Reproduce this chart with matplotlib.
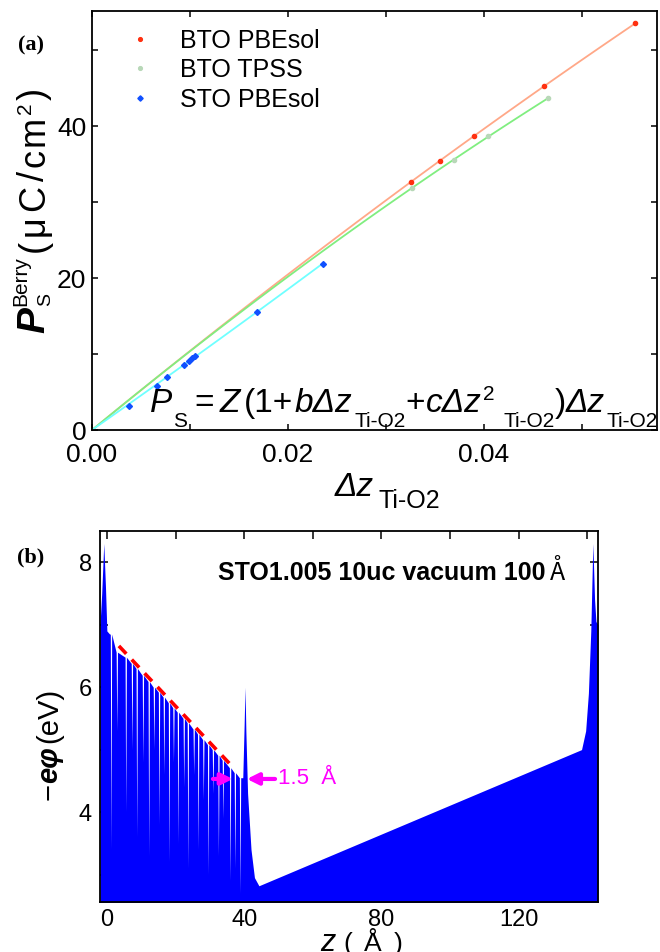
import numpy as np
import matplotlib.pyplot as plt
from matplotlib.ticker import MultipleLocator, FormatStrFormatter

W, H = 660, 952
plt.rcParams['font.family'] = ['Liberation Sans', 'DejaVu Sans']

# (a) spontaneous polarization vs Ti-O2 displacement
bto_pbesol_dz = [0.0326, 0.0355, 0.0390, 0.0462, 0.0555]
bto_pbesol_p = [32.7, 35.5, 38.7, 45.3, 53.6]
bto_tpss_dz = [0.0327, 0.0370, 0.0404, 0.0466]
bto_tpss_p = [31.9, 35.6, 38.7, 43.7]
sto_pbesol_dz = [0.0038, 0.0066, 0.0077, 0.0094, 0.0099, 0.0102, 0.0105, 0.0168, 0.0236]
sto_pbesol_p = [3.2, 5.8, 7.0, 8.6, 9.1, 9.5, 9.7, 15.6, 21.9]

# (b) electrostatic potential of the slab along z
edge_z = [-2.0, -1.5, -0.9, -0.4, 0.0, 0.8]
edge_v = [7.0, 7.5, 8.3, 7.6, 6.9, 6.85]
layer_z = [1.2, 2.9, 5.5, 7.3, 8.7, 10.5, 12.2, 13.7, 15.2, 16.6, 18.1, 19.4, 20.7,
           22.4, 23.6, 25.3, 26.6, 28.1, 29.5, 30.9, 32.5, 33.8, 35.9, 37.3, 38.8]
layer_top = [6.85, 6.56, 6.48, 6.38, 6.30, 6.19, 6.09, 6.00, 5.92, 5.84, 5.75, 5.67, 5.60,
             5.50, 5.43, 5.33, 5.25, 5.16, 5.08, 5.00, 4.91, 4.83, 4.71, 4.63, 4.55]
layer_dip = [3.4, 5.3, 4.0, 5.0, 3.6, 4.8, 3.3, 5.0, 3.8, 4.6, 3.2, 4.8, 3.5,
             4.4, 3.1, 4.6, 3.4, 4.2, 3.0, 4.3, 3.3, 3.9, 2.9, 3.1, 2.7]
vac_z = [39.6, 40.0, 40.25, 40.5, 41.0, 42.0, 43.0, 44.3, 138.3, 139.5,
         140.3, 141.0, 141.6, 142.1, 142.5, 143.1]
vac_v = [4.55, 5.4, 6.0, 5.3, 4.3, 3.4, 2.95, 2.82, 5.0, 5.3,
         5.9, 6.9, 8.3, 7.4, 7.05, 7.0]
slope_z = [3.5, 36.7]
slope_v = [6.66, 4.72]


def fit_curve(dz, p):
    # P = Z(1 + b dz) dz, least squares
    dz = np.asarray(dz)
    A = np.column_stack([dz, dz ** 2])
    coef = np.linalg.lstsq(A, np.asarray(p), rcond=None)[0]
    xs = np.linspace(0, dz.max(), 60)
    return xs, coef[0] * xs + coef[1] * xs ** 2


def rich(fig, x, y, pieces, rotation=0):
    # lay text runs one after another, x/y in pixels from the top-left corner;
    # each piece is (text, font kwargs, baseline shift, advance?, extra gap)
    r = fig.canvas.get_renderer()
    pos = 0.0
    for s, kw, shift, adv, gap in pieces:
        if rotation:
            px, py = x - shift, H - y + pos
        else:
            px, py = x + pos, H - y + shift
        t = fig.text(px / W, py / H, s, rotation=rotation, rotation_mode='anchor',
                     ha='left', va='baseline', **kw)
        bb = t.get_window_extent(r)
        if adv:
            pos += bb.height if rotation else bb.width
        pos += gap


fig = plt.figure(figsize=(6.6, 9.52), dpi=100)
ax1 = fig.add_axes([92 / W, 1 - 430 / H, 565 / W, 419 / H])
ax2 = fig.add_axes([100 / W, 1 - 902 / H, 498 / W, 371 / H])

# ---- (a)
for dz, p, lc, mc, mk, lab in [
        (bto_pbesol_dz, bto_pbesol_p, '#ffa888', '#ff3010', 'o', 'BTO PBEsol'),
        (bto_tpss_dz, bto_tpss_p, '#80ee80', '#b8d8b8', 'o', 'BTO TPSS'),
        (sto_pbesol_dz, sto_pbesol_p, '#70ffff', '#1050ff', 'D', 'STO PBEsol')]:
    xs, ys = fit_curve(dz, p)
    ax1.plot(xs, ys, color=lc, lw=1.3, zorder=2)
    ax1.plot(dz, p, ls='none', marker=mk, ms=3, color=mc, mec=mc, label=lab, zorder=3)

ax1.legend(loc='upper left', bbox_to_anchor=(0.067, 0.958), frameon=False, fontsize=18,
           handlelength=0.8, handletextpad=1.2, labelspacing=0.22, borderpad=0,
           borderaxespad=0, markerscale=0.9)
ax1.set_xlim(0, 0.0577)
ax1.set_ylim(0, 55.2)
ax1.xaxis.set_major_locator(MultipleLocator(0.02))
ax1.xaxis.set_minor_locator(MultipleLocator(0.01))
ax1.xaxis.set_major_formatter(FormatStrFormatter('%.2f'))
ax1.yaxis.set_major_locator(MultipleLocator(20))
ax1.yaxis.set_minor_locator(MultipleLocator(10))
ax1.tick_params(which='both', direction='in', top=True, right=True, length=4.5, width=1.1)
ax1.tick_params(axis='x', labelsize=19, pad=9)
ax1.tick_params(axis='y', labelsize=19, pad=4)
for sp in ax1.spines.values():
    sp.set_linewidth(1.3)

# ---- (b)
z = list(edge_z)
v = list(edge_v)
for lz, top, dip in zip(layer_z, layer_top, layer_dip):
    z += [lz - 0.2, lz, lz + 0.2]
    v += [top, dip, top]
z += vac_z
v += vac_v
ax2.fill_between(z, 0, v, color='#0000ff', lw=0, zorder=1)
ax2.plot(slope_z, slope_v, color='#ff0000', lw=2.6, dashes=(3, 2.2), zorder=3)
arrow = dict(arrowstyle='-|>', color='#ff00ff', lw=3, mutation_scale=17, shrinkA=0, shrinkB=0)
ax2.annotate('', xy=(36.7, 4.53), xytext=(30.9, 4.53), arrowprops=arrow, zorder=4)
ax2.annotate('', xy=(40.8, 4.53), xytext=(49.0, 4.53), arrowprops=arrow, zorder=4)
ax2.text(49.8, 4.53, '1.5  Å', color='#ff00ff', fontsize=16, va='center', ha='left')

ax2.set_xlim(-2.0, 143.1)
ax2.set_ylim(2.56, 8.5)
ax2.xaxis.set_major_locator(MultipleLocator(40))
ax2.xaxis.set_minor_locator(MultipleLocator(20))
ax2.yaxis.set_major_locator(MultipleLocator(2))
ax2.yaxis.set_minor_locator(MultipleLocator(1))
ax2.set_axisbelow(True)
ax2.tick_params(which='both', direction='in', top=True, right=True, length=5.5, width=1.1)
ax2.tick_params(axis='x', labelsize=17, pad=5)
ax2.tick_params(axis='y', labelsize=17, pad=6)
for sp in ax2.spines.values():
    sp.set_linewidth(1.3)
    sp.set_zorder(5)

# ---- labels
fig.text(31 / W, 1 - 45 / H, '(a)', family='Liberation Serif', weight='bold',
         fontsize=16, ha='center', va='center')
fig.text(31 / W, 1 - 557 / H, '(b)', family='Liberation Serif', weight='bold',
         fontsize=16, ha='center', va='center')

big = dict(fontsize=24)
bigit = dict(fontsize=24, style='italic')
sub = dict(fontsize=15)
rich(fig, 335, 496, [
    ('Δz', dict(fontsize=24, style='italic'), 0, True, 4),
    ('Ti-O2', dict(fontsize=18), -12, True, 0)])

rich(fig, 150, 412, [
    ('P', bigit, 0, True, 1),
    ('S', sub, -15, True, 7),
    ('=', big, 0, True, 6),
    ('Z', bigit, 0, True, 4),
    ('(1+', big, 0, True, 1),
    ('bΔz', bigit, 0, True, 2),
    ('Ti-O2', sub, -15, True, 0),
    ('+', big, 0, True, 1),
    ('cΔz', bigit, 0, True, 1),
    ('2', sub, 12, True, 9),
    ('Ti-O2', sub, -15, True, 0),
    (')', big, 0, True, 0),
    ('Δz', bigit, 0, True, 2),
    ('Ti-O2', sub, -15, True, 0)])

lab = dict(fontsize=26)
rich(fig, 44, 333, [
    ('P', dict(fontsize=28, style='italic', weight='bold'), 0, True, 1),
    ('S', dict(fontsize=14), -6, False, 0),
    ('Berry', dict(fontsize=15), 18, True, 4),
    ('(', lab, 0, True, 4),
    ('μ', lab, 0, True, 4),
    ('C', lab, 0, True, 4),
    ('/', lab, 0, True, 4),
    ('c', lab, 0, True, 3),
    ('m', lab, 0, True, 2),
    ('2', dict(fontsize=15), 13, True, 3),
    (')', lab, 0, True, 0)], rotation=90)

rich(fig, 218, 580, [
    ('STO1.005 10uc vacuum 100', dict(fontsize=18, weight='bold'), 0, True, 4),
    ('Å', dict(fontsize=18, family=['Noto Sans CJK JP']), 0, True, 0)])

rich(fig, 57, 800, [
    ('−', dict(fontsize=21), 0, True, 0),
    ('eφ', dict(fontsize=21, style='italic', weight='bold'), 0, True, 3),
    ('(eV)', dict(fontsize=21), 0, True, 0)], rotation=90)

rich(fig, 320, 951, [
    ('z', dict(fontsize=22, style='italic'), 0, True, 8),
    ('(', dict(fontsize=19), 0, True, 12),
    ('Å', dict(fontsize=19), 0, True, 12),
    (')', dict(fontsize=19), 0, True, 0)])

fig.savefig('out.png', dpi=100)
